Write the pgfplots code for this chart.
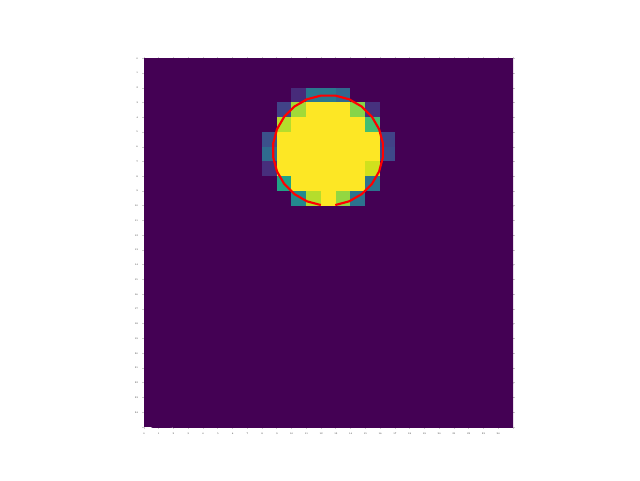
\documentclass[border=0pt]{standalone}
\usepackage{pgfplots}
\pgfplotsset{compat=1.18}
\definecolor{vlow}{HTML}{440154}
\begin{document}
\begin{tikzpicture}[x=1pt,y=1pt]
\useasboundingbox (0,0) rectangle (480,360);
\begin{axis}[
  at={(108pt,39.75pt)}, anchor=south west,
  scale only axis, width=276.75pt, height=276.4pt,
  xmin=0, xmax=25, ymin=0, ymax=25, y dir=reverse,
  axis line style={draw=none},
  axis background/.style={fill=vlow},
  colormap/viridis, point meta min=0, point meta max=1,
  xtick={0,...,24}, ytick={0,...,24},
  extra x ticks={25}, extra x tick labels={},
  extra y ticks={25}, extra y tick labels={},
  tick align=outside, major tick length=1.2pt,
  every tick/.style={gray!40, line width=0.6pt},
  tick label style={font=\tiny, scale=0.35, text=black!85, inner sep=0pt},
  xticklabel shift=3.2pt, yticklabel shift=3.2pt,
]
% 25x25 image, row 0 at the top
\addplot[matrix plot*, mesh/cols=25, point meta=explicit]
  table[header=false, row sep=\\, meta index=0,
        x expr={mod(\coordindex,25)+0.5}, y expr={floor(\coordindex/25)+0.5}] {
0\\ 0\\ 0\\ 0\\ 0\\ 0\\ 0\\ 0\\ 0\\ 0\\ 0\\ 0\\ 0\\ 0\\ 0\\ 0\\ 0\\ 0\\ 0\\ 0\\ 0\\ 0\\ 0\\ 0\\ 0\\
0\\ 0\\ 0\\ 0\\ 0\\ 0\\ 0\\ 0\\ 0\\ 0\\ 0\\ 0\\ 0\\ 0\\ 0\\ 0\\ 0\\ 0\\ 0\\ 0\\ 0\\ 0\\ 0\\ 0\\ 0\\
0\\ 0\\ 0\\ 0\\ 0\\ 0\\ 0\\ 0\\ 0\\ 0\\ 0.12\\ 0.4\\ 0.4\\ 0.33\\ 0\\ 0\\ 0\\ 0\\ 0\\ 0\\ 0\\ 0\\ 0\\ 0\\ 0\\
0\\ 0\\ 0\\ 0\\ 0\\ 0\\ 0\\ 0\\ 0\\ 0.2\\ 0.86\\ 1\\ 1\\ 1\\ 0.82\\ 0.14\\ 0\\ 0\\ 0\\ 0\\ 0\\ 0\\ 0\\ 0\\ 0\\
0\\ 0\\ 0\\ 0\\ 0\\ 0\\ 0\\ 0\\ 0\\ 0.89\\ 1\\ 1\\ 1\\ 1\\ 1\\ 0.7\\ 0\\ 0\\ 0\\ 0\\ 0\\ 0\\ 0\\ 0\\ 0\\
0\\ 0\\ 0\\ 0\\ 0\\ 0\\ 0\\ 0\\ 0.25\\ 1\\ 1\\ 1\\ 1\\ 1\\ 1\\ 1\\ 0.2\\ 0\\ 0\\ 0\\ 0\\ 0\\ 0\\ 0\\ 0\\
0\\ 0\\ 0\\ 0\\ 0\\ 0\\ 0\\ 0\\ 0.35\\ 1\\ 1\\ 1\\ 1\\ 1\\ 1\\ 1\\ 0.22\\ 0\\ 0\\ 0\\ 0\\ 0\\ 0\\ 0\\ 0\\
0\\ 0\\ 0\\ 0\\ 0\\ 0\\ 0\\ 0\\ 0.13\\ 1\\ 1\\ 1\\ 1\\ 1\\ 1\\ 0.93\\ 0\\ 0\\ 0\\ 0\\ 0\\ 0\\ 0\\ 0\\ 0\\
0\\ 0\\ 0\\ 0\\ 0\\ 0\\ 0\\ 0\\ 0\\ 0.58\\ 1\\ 1\\ 1\\ 1\\ 1\\ 0.38\\ 0\\ 0\\ 0\\ 0\\ 0\\ 0\\ 0\\ 0\\ 0\\
0\\ 0\\ 0\\ 0\\ 0\\ 0\\ 0\\ 0\\ 0\\ 0\\ 0.47\\ 0.89\\ 1\\ 0.84\\ 0.38\\ 0\\ 0\\ 0\\ 0\\ 0\\ 0\\ 0\\ 0\\ 0\\ 0\\
0\\ 0\\ 0\\ 0\\ 0\\ 0\\ 0\\ 0\\ 0\\ 0\\ 0\\ 0\\ 0\\ 0\\ 0\\ 0\\ 0\\ 0\\ 0\\ 0\\ 0\\ 0\\ 0\\ 0\\ 0\\
0\\ 0\\ 0\\ 0\\ 0\\ 0\\ 0\\ 0\\ 0\\ 0\\ 0\\ 0\\ 0\\ 0\\ 0\\ 0\\ 0\\ 0\\ 0\\ 0\\ 0\\ 0\\ 0\\ 0\\ 0\\
0\\ 0\\ 0\\ 0\\ 0\\ 0\\ 0\\ 0\\ 0\\ 0\\ 0\\ 0\\ 0\\ 0\\ 0\\ 0\\ 0\\ 0\\ 0\\ 0\\ 0\\ 0\\ 0\\ 0\\ 0\\
0\\ 0\\ 0\\ 0\\ 0\\ 0\\ 0\\ 0\\ 0\\ 0\\ 0\\ 0\\ 0\\ 0\\ 0\\ 0\\ 0\\ 0\\ 0\\ 0\\ 0\\ 0\\ 0\\ 0\\ 0\\
0\\ 0\\ 0\\ 0\\ 0\\ 0\\ 0\\ 0\\ 0\\ 0\\ 0\\ 0\\ 0\\ 0\\ 0\\ 0\\ 0\\ 0\\ 0\\ 0\\ 0\\ 0\\ 0\\ 0\\ 0\\
0\\ 0\\ 0\\ 0\\ 0\\ 0\\ 0\\ 0\\ 0\\ 0\\ 0\\ 0\\ 0\\ 0\\ 0\\ 0\\ 0\\ 0\\ 0\\ 0\\ 0\\ 0\\ 0\\ 0\\ 0\\
0\\ 0\\ 0\\ 0\\ 0\\ 0\\ 0\\ 0\\ 0\\ 0\\ 0\\ 0\\ 0\\ 0\\ 0\\ 0\\ 0\\ 0\\ 0\\ 0\\ 0\\ 0\\ 0\\ 0\\ 0\\
0\\ 0\\ 0\\ 0\\ 0\\ 0\\ 0\\ 0\\ 0\\ 0\\ 0\\ 0\\ 0\\ 0\\ 0\\ 0\\ 0\\ 0\\ 0\\ 0\\ 0\\ 0\\ 0\\ 0\\ 0\\
0\\ 0\\ 0\\ 0\\ 0\\ 0\\ 0\\ 0\\ 0\\ 0\\ 0\\ 0\\ 0\\ 0\\ 0\\ 0\\ 0\\ 0\\ 0\\ 0\\ 0\\ 0\\ 0\\ 0\\ 0\\
0\\ 0\\ 0\\ 0\\ 0\\ 0\\ 0\\ 0\\ 0\\ 0\\ 0\\ 0\\ 0\\ 0\\ 0\\ 0\\ 0\\ 0\\ 0\\ 0\\ 0\\ 0\\ 0\\ 0\\ 0\\
0\\ 0\\ 0\\ 0\\ 0\\ 0\\ 0\\ 0\\ 0\\ 0\\ 0\\ 0\\ 0\\ 0\\ 0\\ 0\\ 0\\ 0\\ 0\\ 0\\ 0\\ 0\\ 0\\ 0\\ 0\\
0\\ 0\\ 0\\ 0\\ 0\\ 0\\ 0\\ 0\\ 0\\ 0\\ 0\\ 0\\ 0\\ 0\\ 0\\ 0\\ 0\\ 0\\ 0\\ 0\\ 0\\ 0\\ 0\\ 0\\ 0\\
0\\ 0\\ 0\\ 0\\ 0\\ 0\\ 0\\ 0\\ 0\\ 0\\ 0\\ 0\\ 0\\ 0\\ 0\\ 0\\ 0\\ 0\\ 0\\ 0\\ 0\\ 0\\ 0\\ 0\\ 0\\
0\\ 0\\ 0\\ 0\\ 0\\ 0\\ 0\\ 0\\ 0\\ 0\\ 0\\ 0\\ 0\\ 0\\ 0\\ 0\\ 0\\ 0\\ 0\\ 0\\ 0\\ 0\\ 0\\ 0\\ 0\\
0\\ 0\\ 0\\ 0\\ 0\\ 0\\ 0\\ 0\\ 0\\ 0\\ 0\\ 0\\ 0\\ 0\\ 0\\ 0\\ 0\\ 0\\ 0\\ 0\\ 0\\ 0\\ 0\\ 0\\ 0\\
};
% circle outline, open at the bottom
\addplot[red, line width=1.6pt, line join=round] coordinates {
  (11.981,9.943) (11.037,9.690) (10.190,9.201) (9.499,8.510) (9.010,7.663)
  (8.757,6.719) (8.757,5.741) (9.010,4.797) (9.499,3.950) (10.190,3.259)
  (11.037,2.770) (11.981,2.517) (12.959,2.517) (13.903,2.770) (14.750,3.259)
  (15.441,3.950) (15.930,4.797) (16.183,5.741) (16.183,6.719) (15.930,7.663)
  (15.441,8.510) (14.750,9.201) (13.903,9.690) (12.959,9.943)
};
\end{axis}
\end{tikzpicture}
\end{document}
